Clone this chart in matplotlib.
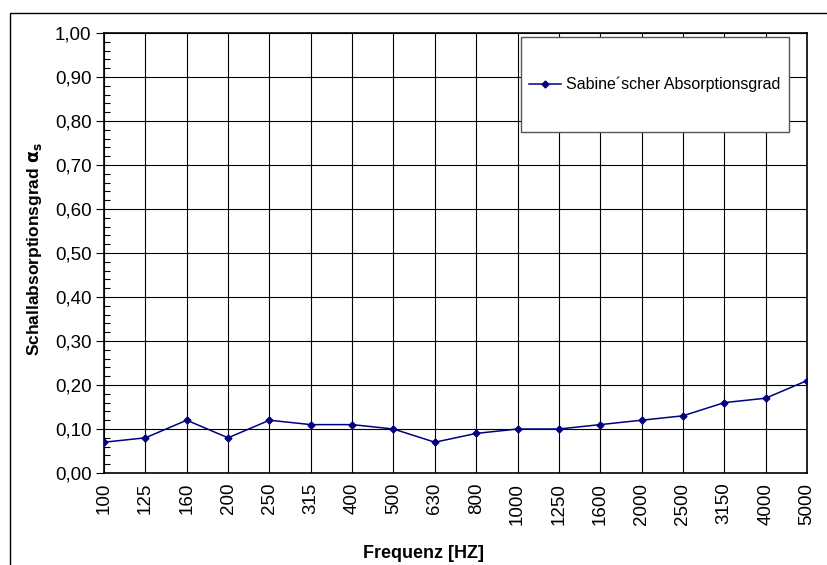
import matplotlib
matplotlib.use("Agg")
import matplotlib.pyplot as plt
from matplotlib.patches import Rectangle
from matplotlib.ticker import MultipleLocator, FuncFormatter

plt.rcParams['font.family'] = ['Liberation Sans', 'DejaVu Sans']

freq = ['100', '125', '160', '200', '250', '315', '400', '500', '630', '800',
        '1000', '1250', '1600', '2000', '2500', '3150', '4000', '5000']
alpha = [0.07, 0.08, 0.12, 0.08, 0.12, 0.11, 0.11, 0.10, 0.07, 0.09,
         0.10, 0.10, 0.11, 0.12, 0.13, 0.16, 0.17, 0.21]

fig = plt.figure(figsize=(8.27, 5.65), dpi=100, facecolor='white')
ax = fig.add_axes([0.1258, 0.1628, 0.850, 0.7788])

x = list(range(len(freq)))
ax.plot(x, alpha, color='#000080', lw=1.1, marker='D', ms=3.5,
        label='Sabine\u00b4scher Absorptionsgrad', zorder=4)

ax.set_xlim(0, len(freq) - 1)
ax.set_ylim(0, 1.0)
ax.set_xticks(x)
ax.set_xticklabels(freq, rotation=90, fontsize=13.5)
ax.yaxis.set_major_locator(MultipleLocator(0.1))
ax.yaxis.set_minor_locator(MultipleLocator(0.02))
ax.yaxis.set_major_formatter(FuncFormatter(lambda v, p: ('%.2f' % v).replace('.', ',')))
ax.tick_params(axis='y', which='major', direction='out', length=6, width=0.8, labelsize=13.5, pad=3)
ax.tick_params(axis='y', which='minor', direction='in', length=4, width=0.8)
ax.tick_params(axis='x', which='major', length=0, pad=7)
ax.grid(True, which='major', color='black', lw=0.8)
for s in ax.spines.values():
    s.set_linewidth(1.2)

ax.set_xlabel('Frequenz [HZ]', fontsize=13, fontweight='bold')
ax.xaxis.set_label_coords(0.454, -0.163)
ax.set_ylabel(r'Schallabsorptionsgrad $\mathbf{\alpha_s}$', fontsize=12.5, fontweight='bold')
ax.yaxis.set_label_coords(-0.086, 0.51)

# legend box
ax.add_patch(Rectangle((0.593, 0.775), 0.381, 0.216, transform=ax.transAxes,
                       facecolor='white', edgecolor='#555555', lw=1.0, zorder=5))
leg = ax.legend(loc='center', bbox_to_anchor=(0.593 + 0.381 / 2, 0.775 + 0.216 / 2),
                frameon=False, fontsize=11.5, handlelength=2.0, handletextpad=0.3)
leg.set_zorder(6)

# outer chart border
fig.add_artist(Rectangle((10 / 827, -0.1), 1.2, 1 - 13 / 565 + 0.1,
                         transform=fig.transFigure, fill=False, edgecolor='black', lw=1.0))

fig.savefig('out.png', dpi=100)
